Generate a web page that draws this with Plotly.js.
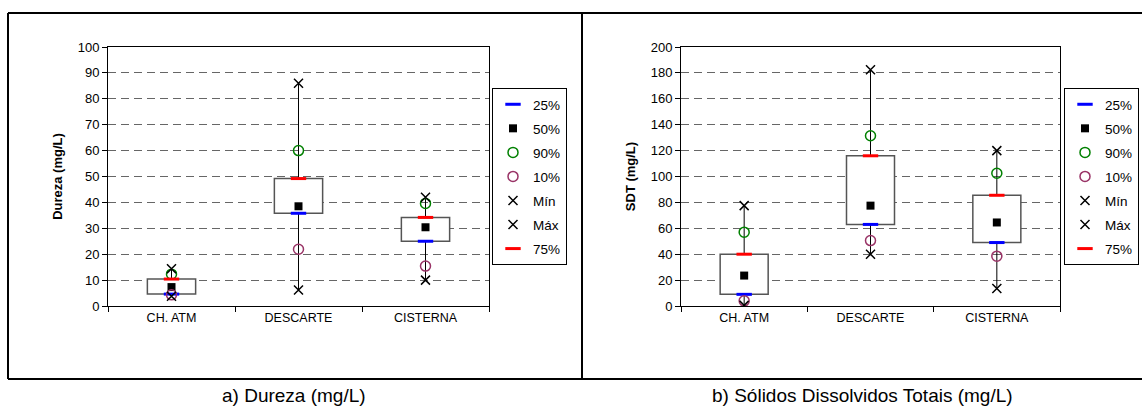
<!DOCTYPE html>
<html>
<head>
<meta charset="utf-8">
<script src="https://cdn.plot.ly/plotly-3.0.1.min.js"></script>
<style>html,body{margin:0;padding:0;background:#fff;}#chart{width:1142px;height:408px;}</style>
</head>
<body>
<div id="chart"></div>
<script>
const categories = ['CH. ATM', 'DESCARTE', 'CISTERNA'];

// a) Dureza (mg/L)
const durezaP25 = [4.6, 35.8, 25.0];
const durezaP50 = [7.3, 38.5, 30.4];
const durezaP90 = [12.3, 60.0, 39.6];
const durezaP10 = [4.3, 21.9, 15.4];
const durezaMin = [3.8, 6.2, 10.0];
const durezaMax = [14.4, 86.0, 42.0];
const durezaP75 = [10.4, 49.2, 34.2];

// b) Sólidos Dissolvidos Totais (mg/L)
const sdtP25 = [9.0, 63.0, 49.0];
const sdtP50 = [23.5, 77.5, 64.5];
const sdtP90 = [57.0, 131.5, 102.5];
const sdtP10 = [4.0, 50.5, 38.5];
const sdtMin = [0.5, 40.0, 13.5];
const sdtMax = [77.5, 182.5, 120.0];
const sdtP75 = [40.0, 116.0, 85.5];

const yTicksDureza = [0, 10, 20, 30, 40, 50, 60, 70, 80, 90, 100];
const yTicksSdt = [0, 20, 40, 60, 80, 100, 120, 140, 160, 180, 200];

const FONT = 'Arial, "Liberation Sans", sans-serif';
const W = 1142, H = 408;
const px = v => v / W;
const py = v => 1 - v / H;

function buildTraces(d, xa, ya, legendId) {
  const traces = [];
  // boxes (25%–75%)
  traces.push({
    type: 'bar', x: categories, y: d.p75.map((v, i) => v - d.p25[i]), base: d.p25,
    width: 0.38, xaxis: xa, yaxis: ya, showlegend: false, hoverinfo: 'skip',
    marker: {color: '#ffffff', line: {color: '#555555', width: 1.5}}
  });
  // whiskers
  const wx = [], wy = [];
  categories.forEach((c, i) => {
    wx.push(c, c, null, c, c, null);
    wy.push(d.min[i], d.p25[i], null, d.p75[i], d.max[i], null);
  });
  traces.push({
    type: 'scatter', mode: 'lines', x: wx, y: wy, xaxis: xa, yaxis: ya,
    showlegend: false, hoverinfo: 'skip', connectgaps: false,
    line: {color: '#000000', width: 1}
  });
  const series = [
    {name: '25%', y: d.p25, marker: {symbol: 'line-ew', size: 11, line: {color: '#0000ff', width: 3}, color: '#0000ff'}},
    {name: '50%', y: d.p50, marker: {symbol: 'square', size: 8, color: '#000000'}},
    {name: '90%', y: d.p90, marker: {symbol: 'circle-open', size: 10, color: '#008000', line: {width: 1.5}}},
    {name: '10%', y: d.p10, marker: {symbol: 'circle-open', size: 10, color: '#993366', line: {width: 1.5}}},
    {name: 'Mín', y: d.min, marker: {symbol: 'x-thin-open', size: 9, color: '#000000', line: {width: 1.5, color: '#000000'}}},
    {name: 'Máx', y: d.max, marker: {symbol: 'x-thin-open', size: 9, color: '#000000', line: {width: 1.5, color: '#000000'}}},
    {name: '75%', y: d.p75, marker: {symbol: 'line-ew', size: 11, line: {color: '#ff0000', width: 3}, color: '#ff0000'}}
  ];
  series.forEach(s => {
    traces.push({
      type: 'scatter', mode: 'markers', name: s.name, x: categories, y: s.y,
      xaxis: xa, yaxis: ya, marker: s.marker, legend: legendId,
      legendgroup: legendId + s.name
    });
  });
  return traces;
}

const data = [].concat(
  buildTraces({p25: durezaP25, p50: durezaP50, p90: durezaP90, p10: durezaP10, min: durezaMin, max: durezaMax, p75: durezaP75}, 'x', 'y', 'legend'),
  buildTraces({p25: sdtP25, p50: sdtP50, p90: sdtP90, p10: sdtP10, min: sdtMin, max: sdtMax, p75: sdtP75}, 'x2', 'y2', 'legend2')
);

function xAxis(domain, anchor) {
  return {
    domain: domain, anchor: anchor, type: 'category', categoryarray: categories,
    range: [-0.5, 2.5], showgrid: false, zeroline: false,
    showline: true, linecolor: '#000', linewidth: 1, mirror: true,
    ticks: 'outside', tickson: 'boundaries', ticklen: 5, tickcolor: '#000',
    tickfont: {family: FONT, size: 12.5, color: '#000'}, fixedrange: true
  };
}
function yAxis(domain, anchor, ticks, title) {
  return {
    domain: domain, anchor: anchor, range: [ticks[0], ticks[ticks.length - 1]],
    tickmode: 'array', tickvals: ticks, ticktext: ticks.map(String),
    showgrid: true, gridcolor: '#666666', gridwidth: 1, griddash: '8px,5px',
    zeroline: false, showline: true, linecolor: '#000', linewidth: 1, mirror: true,
    ticks: 'outside', ticklen: 5, tickcolor: '#000',
    tickfont: {family: FONT, size: 13, color: '#000'},
    title: {text: '<b>' + title + '</b>', font: {family: FONT, size: 13, color: '#000'}, standoff: 12},
    fixedrange: true
  };
}

const legendBase = {
  bgcolor: '#ffffff', bordercolor: '#000000', borderwidth: 1,
  font: {family: FONT, size: 13.5, color: '#000'},
  xanchor: 'left', yanchor: 'top', tracegroupgap: 3.5, itemclick: false, itemdoubleclick: false
};

const layout = {
  width: W, height: H, margin: {l: 0, r: 0, t: 0, b: 0},
  paper_bgcolor: '#ffffff', plot_bgcolor: '#ffffff', barmode: 'overlay',
  showlegend: true, hovermode: false,
  xaxis: xAxis([px(108), px(489)], 'y'),
  yaxis: yAxis([py(306), py(47)], 'x', yTicksDureza, 'Dureza (mg/L)'),
  xaxis2: xAxis([px(681), px(1060)], 'y2'),
  yaxis2: yAxis([py(306), py(47)], 'x2', yTicksSdt, 'SDT (mg/L)'),
  legend: Object.assign({x: px(492), y: py(88)}, legendBase),
  legend2: Object.assign({x: px(1064), y: py(88)}, legendBase),
  shapes: [
    {type: 'line', xref: 'paper', yref: 'paper', x0: px(8), x1: 1, y0: py(13), y1: py(13), line: {color: '#000', width: 2}},
    {type: 'line', xref: 'paper', yref: 'paper', x0: px(8), x1: 1, y0: py(379), y1: py(379), line: {color: '#000', width: 2}},
    {type: 'line', xref: 'paper', yref: 'paper', x0: px(8), x1: px(8), y0: py(13), y1: py(379), line: {color: '#000', width: 2}},
    {type: 'line', xref: 'paper', yref: 'paper', x0: px(582), x1: px(582), y0: py(13), y1: py(379), line: {color: '#000', width: 2}}
  ],
  annotations: [
    {xref: 'paper', yref: 'paper', x: px(294), y: py(395), text: 'a) Dureza (mg/L)', showarrow: false,
     xanchor: 'center', yanchor: 'middle', font: {family: FONT, size: 19, color: '#000'}},
    {xref: 'paper', yref: 'paper', x: px(862), y: py(395), text: 'b) Sólidos Dissolvidos Totais (mg/L)', showarrow: false,
     xanchor: 'center', yanchor: 'middle', font: {family: FONT, size: 19, color: '#000'}}
  ]
};

Plotly.newPlot('chart', data, layout, {displayModeBar: false, staticPlot: true});
</script>
</body>
</html>
